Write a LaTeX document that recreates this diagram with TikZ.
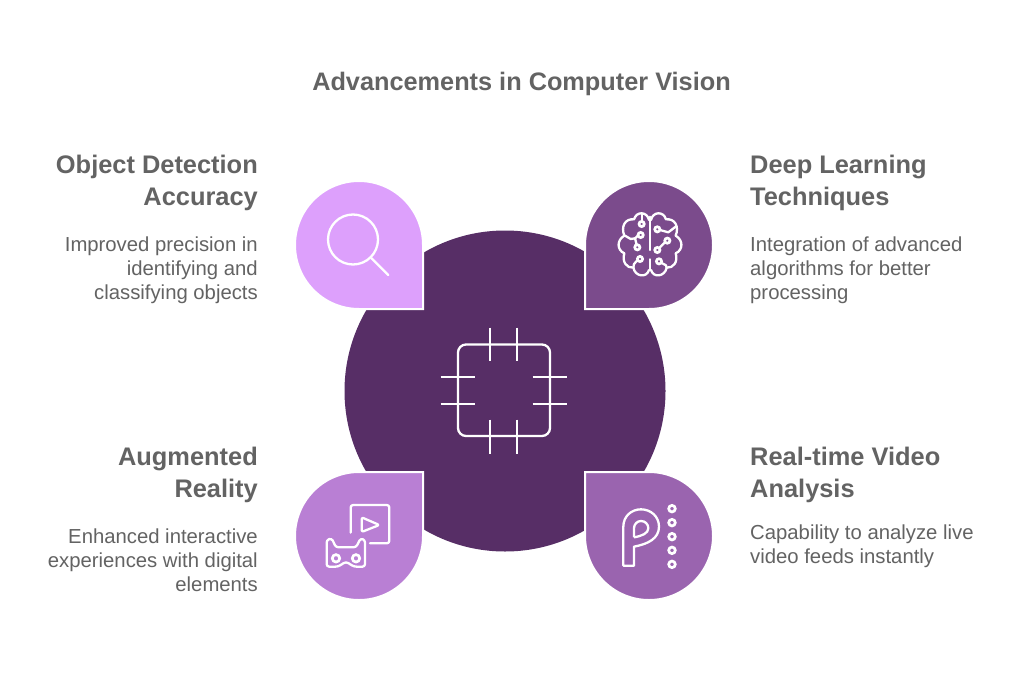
\documentclass[tikz,border=0pt]{standalone}
\usepackage{fontspec}
\setmainfont{Liberation Sans}
\definecolor{hub}{RGB}{87,46,102}
\definecolor{dropa}{RGB}{221,160,252}
\definecolor{dropb}{RGB}{123,75,140}
\definecolor{dropc}{RGB}{185,127,212}
\definecolor{dropd}{RGB}{154,100,175}
\definecolor{ink}{RGB}{99,99,99}
\newcommand{\headfont}{\fontsize{25.4}{32}\selectfont\bfseries}
\newcommand{\bodyfont}{\fontsize{20.3}{24}\selectfont}
\tikzset{
  x=1pt,y=-1pt,
  hubdisc/.style={circle,fill=hub,minimum size=321pt,inner sep=0pt},
  icon/.style={draw=white,line width=2.3pt,line cap=round,line join=round},
  ring/.style={draw=white,line width=2.7pt},
  headR/.style={anchor=north east,align=right,inner sep=0pt,text=ink,font=\headfont},
  headL/.style={anchor=north west,align=left,inner sep=0pt,text=ink,font=\headfont},
  bodyR/.style={anchor=north east,align=right,inner sep=0pt,text=ink,font=\bodyfont},
  bodyL/.style={anchor=north west,align=left,inner sep=0pt,text=ink,font=\bodyfont},
  dropedge/.style={draw=white,line width=2pt,line join=miter},
}
\begin{document}
\begin{tikzpicture}
\useasboundingbox (0,0) rectangle (1024,674);
\fill[white] (0,0) rectangle (1024,674);
\node[hubdisc] (hub) at (505,391) {};
\node[anchor=center,inner sep=0pt,text=ink,font=\fontsize{25.3}{30}\selectfont\bfseries] (title) at (521.5,83.5) {Advancements in Computer Vision};
% drops
\draw[dropedge,fill=dropa] (423,309) -- (359,309) arc[start angle=270,delta angle=-270,radius=64pt] -- cycle;
\draw[dropedge,fill=dropb] (585,309) -- (649,309) arc[start angle=270,delta angle=270,radius=64pt] -- cycle;
\draw[dropedge,fill=dropc] (423,472) -- (423,536) arc[start angle=0,delta angle=-270,radius=64pt] -- cycle;
\draw[dropedge,fill=dropd] (585,472) -- (649,472) arc[start angle=90,delta angle=-270,radius=64pt] -- cycle;
% chip
\draw[icon,rounded corners=8pt] (458,344.5) rectangle (550,436);
\foreach \px in {490.3,517.3}{
  \draw[icon,line cap=butt] (\px,327.5) -- (\px,361);
  \draw[icon,line cap=butt] (\px,419.5) -- (\px,453.5);
}
\foreach \py in {377,404}{
  \draw[icon,line cap=butt] (440.5,\py) -- (475,\py);
  \draw[icon,line cap=butt] (532.5,\py) -- (567,\py);
}
% magnifier
\draw[icon] (353,239.5) circle[radius=25pt];
\draw[icon] (371.5,258.3) -- (388.3,275);
% brain
\begin{scope}[shift={(570,170)},x=0.3333pt,y=-0.3333pt]
\foreach \m in {1,-1}{
\begin{scope}[xshift=80pt,xscale=\m]
\draw[icon] (-3,150) .. controls (-8,125) and (-40,122) .. (-48,148)
  .. controls (-75,145) and (-88,170) .. (-77,197)
  .. controls (-100,210) and (-100,240) .. (-77,250)
  .. controls (-85,275) and (-70,295) .. (-50,293)
  .. controls (-45,320) and (-10,325) .. (-3,300);
\end{scope}}
\draw[icon] (240,140) -- (240,240);
\draw[icon] (240,268) -- (240,300);
\foreach \cx/\cy in {215/162,212/195,202/232,210/267,262/178,292/212,262/240,267/274}{
  \draw[ring] (\cx,\cy) circle[radius=2.6pt];
}
\draw[icon] (215,154) -- (215,132);
\draw[icon] (204,197) -- (195,205) -- (182,207) -- (165,197);
\draw[icon] (200,224) -- (195,205);
\draw[icon] (202,271) -- (192,282) -- (190,293);
\draw[icon] (270,180) -- (295,187) -- (317,170);
\draw[icon] (285,217) -- (268,234);
\draw[icon] (275,279) -- (288,286) -- (290,293);
\end{scope}
% AR
\begin{scope}[shift={(280,460)},x=0.3333pt,y=-0.3333pt]
\draw[icon,rounded corners=2.5pt] (212,218) -- (212,135) -- (328,135) -- (328,250) -- (270,250);
\draw[icon,rounded corners=2pt] (245,172) -- (298,195) -- (245,216) -- cycle;
\draw[icon,rounded corners=2.5pt] (140,240) -- (155,235) -- (168,262) -- (228,262) -- (242,235) -- (255,240) -- (255,320) -- (222,320) -- (198,305) -- (174,320) -- (140,320) -- cycle;
\draw[ring] (168,295) circle[radius=3.7pt];
\draw[ring] (228,295) circle[radius=3.7pt];
\end{scope}
% P
\begin{scope}[shift={(570,460)},x=0.3333pt,y=-0.3333pt]
\draw[icon,line cap=butt] (160,317) -- (160,200) .. controls (160,168) and (185,148) .. (213,148)
  .. controls (243,148) and (267,170) .. (267,200)
  .. controls (267,235) and (235,252) .. (192,260) -- (192,317) -- cycle;
\draw[icon,line cap=butt] (192,232) -- (192,205) .. controls (192,192) and (202,183) .. (213,183)
  .. controls (226,183) and (235,193) .. (235,205)
  .. controls (235,220) and (215,228) .. (192,232);
\foreach \cy in {146,188,230,271,313}{
  \draw[ring] (306,\cy) circle[radius=3.3pt];
}
\end{scope}
% text
\node[headR] (h1) at (258,154.5) {Object Detection\\Accuracy};
\node[bodyR] (b1) at (258,237) {Improved precision in\\identifying and\\classifying objects};
\node[headL] (h2) at (750,154.5) {Deep Learning\\Techniques};
\node[bodyL] (b2) at (750,237) {Integration of advanced\\algorithms for better\\processing};
\node[headR] (h3) at (258,446.5) {Augmented\\Reality};
\node[bodyR] (b3) at (258,529) {Enhanced interactive\\experiences with digital\\elements};
\node[headL] (h4) at (750,446.5) {Real-time Video\\Analysis};
\node[bodyL] (b4) at (750,525) {Capability to analyze live\\video feeds instantly};
\end{tikzpicture}
\end{document}
